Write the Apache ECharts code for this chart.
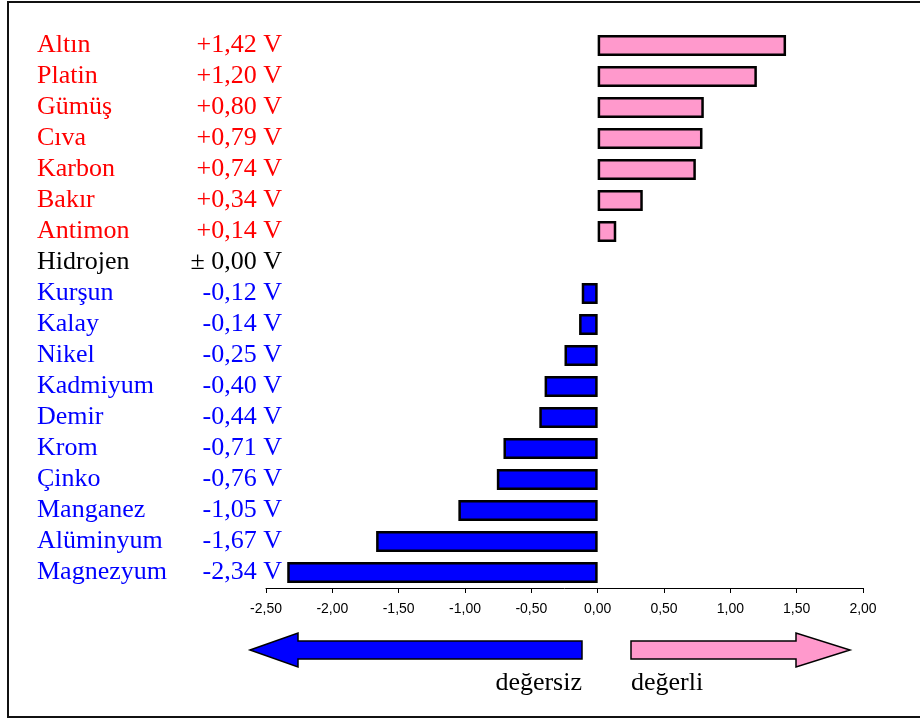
<!DOCTYPE html>
<html>
<head>
<meta charset="utf-8">
<script src="https://cdn.jsdelivr.net/npm/echarts@6/dist/echarts.min.js"></script>
<style>
  html, body { margin: 0; padding: 0; background: #fff; }
  #chart { width: 920px; height: 719px; }
</style>
</head>
<body>
<div id="chart"></div>
<script>
// metaller ve standart elektrot potansiyelleri
var metals = ['Altın', 'Platin', 'Gümüş', 'Cıva', 'Karbon', 'Bakır', 'Antimon', 'Hidrojen',
  'Kurşun', 'Kalay', 'Nikel', 'Kadmiyum', 'Demir', 'Krom', 'Çinko', 'Manganez', 'Alüminyum', 'Magnezyum'];
var potentials = [1.42, 1.20, 0.80, 0.79, 0.74, 0.34, 0.14, 0.00,
  -0.12, -0.14, -0.25, -0.40, -0.44, -0.71, -0.76, -1.05, -1.67, -2.34];
var potentialText = ['+1,42 V', '+1,20 V', '+0,80 V', '+0,79 V', '+0,74 V', '+0,34 V', '+0,14 V', '± 0,00 V',
  '-0,12 V', '-0,14 V', '-0,25 V', '-0,40 V', '-0,44 V', '-0,71 V', '-0,76 V', '-1,05 V', '-1,67 V', '-2,34 V'];
var xTicks = { min: -2.5, max: 2.0, interval: 0.5 };

var myChart = echarts.init(document.getElementById('chart'));

var serif = 'Liberation Serif, Times New Roman, serif';
function richPair(color) {
  return [
    { color: color, fontFamily: serif, fontSize: 26, width: 150, align: 'left' },
    { color: color, fontFamily: serif, fontSize: 26, width: 95, align: 'right' }
  ];
}
var rp = richPair('#ff0000'), rn = richPair('#0000ff'), rz = richPair('#000000');

var barData = potentials.map(function (v) {
  if (v === 0) return { value: v, itemStyle: { opacity: 0, borderWidth: 0 } };
  return { value: v, itemStyle: { color: v > 0 ? '#ff99cc' : '#0000ff' } };
});

var option = {
  backgroundColor: '#ffffff',
  animation: false,
  grid: { left: 266, right: 57, top: 30, bottom: 131 },
  xAxis: {
    type: 'value',
    min: xTicks.min,
    max: xTicks.max,
    interval: xTicks.interval,
    splitLine: { show: false },
    axisLine: { show: true, onZero: false, lineStyle: { color: '#000', width: 1 } },
    axisTick: { show: true, length: 5, lineStyle: { color: '#000' } },
    axisLabel: {
      margin: 14,
      color: '#000',
      fontFamily: 'Liberation Sans, Arial, sans-serif',
      fontSize: 14,
      formatter: function (v) { return v.toFixed(2).replace('.', ','); }
    }
  },
  yAxis: {
    type: 'category',
    inverse: true,
    data: metals,
    axisLine: { show: false },
    axisTick: { show: false },
    axisLabel: {
      align: 'left',
      margin: 229,
      interval: 0,
      formatter: function (name, i) {
        var v = potentials[i], k = v > 0 ? 'p' : (v < 0 ? 'n' : 'z');
        return '{' + k + 'a|' + name + '}{' + k + 'b|' + potentialText[i] + '}';
      },
      rich: { pa: rp[0], pb: rp[1], na: rn[0], nb: rn[1], za: rz[0], zb: rz[1] }
    }
  },
  series: [{
    type: 'bar',
    data: barData,
    barWidth: 21,
    itemStyle: { borderColor: '#000', borderWidth: 2.5 }
  }],
  graphic: [
    {
      type: 'rect',
      shape: { x: 8, y: 2, width: 930, height: 715 },
      style: { fill: 'none', stroke: '#111', lineWidth: 2 }
    },
    {
      type: 'polygon',
      shape: { points: [[250, 650], [298, 633], [298, 641], [582, 641], [582, 659], [298, 659], [298, 667]] },
      style: { fill: '#0000ff', stroke: '#000', lineWidth: 1.5 }
    },
    {
      type: 'polygon',
      shape: { points: [[631, 641], [796, 641], [796, 633], [850, 650], [796, 667], [796, 659], [631, 659]] },
      style: { fill: '#ff99cc', stroke: '#000', lineWidth: 1.5 }
    },
    {
      type: 'text',
      x: 582, y: 683,
      style: { text: 'değersiz', fill: '#000', font: '26px ' + serif, align: 'right', verticalAlign: 'middle' }
    },
    {
      type: 'text',
      x: 631, y: 683,
      style: { text: 'değerli', fill: '#000', font: '26px ' + serif, align: 'left', verticalAlign: 'middle' }
    }
  ]
};

myChart.setOption(option);
</script>
</body>
</html>
